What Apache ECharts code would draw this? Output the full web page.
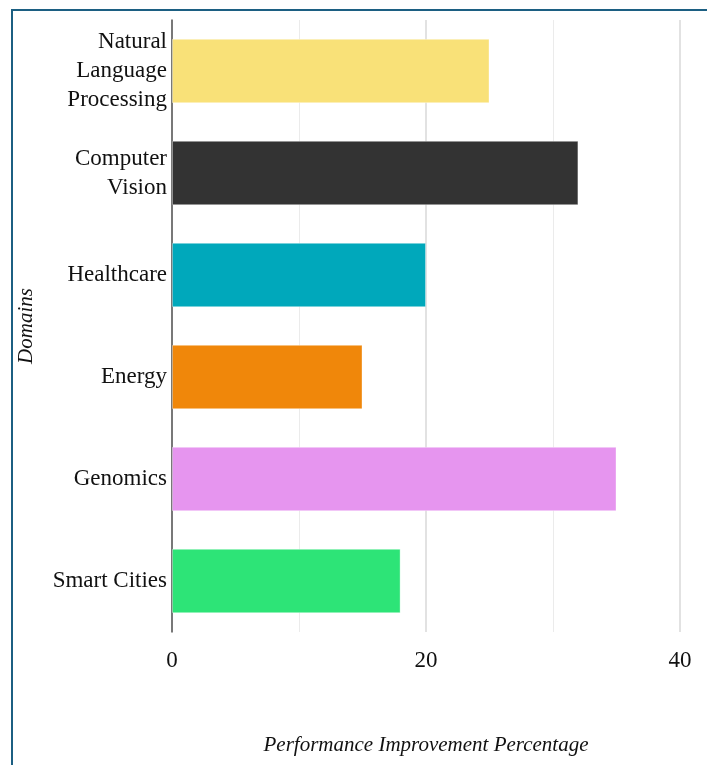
<!DOCTYPE html>
<html>
<head>
<meta charset="utf-8">
<script src="https://cdn.jsdelivr.net/npm/echarts@6/dist/echarts.min.js"></script>
<style>
  html, body { margin: 0; padding: 0; background: #fff; }
  /* page frame, only left and top edges show */
  .frame {
    position: absolute; left: 11px; top: 9px;
    width: 800px; height: 900px;
    border-left: 2px solid #1c5f82; border-top: 2px solid #1c5f82;
  }
  #chart { position: absolute; left: 0; top: 0; width: 707px; height: 765px; }
</style>
</head>
<body>
<div class="frame"></div>
<div id="chart"></div>
<script>
const domains = ['Natural\nLanguage\nProcessing', 'Computer\nVision', 'Healthcare', 'Energy', 'Genomics', 'Smart Cities']
const improvement = [25, 32, 20, 15, 35, 18]
const barColors = ['#f9e178', '#333333', '#00a8bb', '#f0870a', '#e695ef', '#2de477']
const xTicks = [0, 20, 40]

const font = '"Liberation Serif", "Times New Roman", serif'

const myChart = echarts.init(document.getElementById('chart'))
myChart.setOption({
  animation: false,
  grid: { left: 172, right: 27, top: 20, bottom: 133 },
  xAxis: {
    type: 'value',
    min: xTicks[0],
    max: xTicks[xTicks.length - 1],
    interval: 20,
    name: 'Performance Improvement Percentage',
    nameLocation: 'middle',
    nameGap: 103,
    nameTextStyle: { fontFamily: font, fontStyle: 'italic', fontSize: 21, color: '#111' },
    axisLine: { show: false },
    axisTick: { show: false },
    axisLabel: { fontFamily: font, fontSize: 23, color: '#111', margin: 17 },
    splitLine: { show: true, lineStyle: { color: '#d8d8d8', width: 1.5 } },
    minorTick: { show: false, splitNumber: 2 },
    minorSplitLine: { show: true, lineStyle: { color: '#ebebeb', width: 1 } }
  },
  yAxis: {
    type: 'category',
    data: domains,
    inverse: true,
    name: 'Domains',
    nameLocation: 'middle',
    nameGap: 135,
    nameRotate: 90,
    nameTextStyle: { fontFamily: font, fontStyle: 'italic', fontSize: 21, color: '#111' },
    axisLine: { show: true, lineStyle: { color: '#555', width: 1.5 } },
    axisTick: { show: false },
    axisLabel: { fontFamily: font, fontSize: 23, color: '#111', margin: 5, lineHeight: 29, align: 'right' },
    splitLine: { show: false }
  },
  series: [{
    type: 'bar',
    barWidth: '63%',
    data: improvement.map((v, i) => ({
      value: v,
      itemStyle: { color: barColors[i], borderColor: 'rgba(255,255,255,0.35)', borderWidth: 1 }
    }))
  }]
})
</script>
</body>
</html>
